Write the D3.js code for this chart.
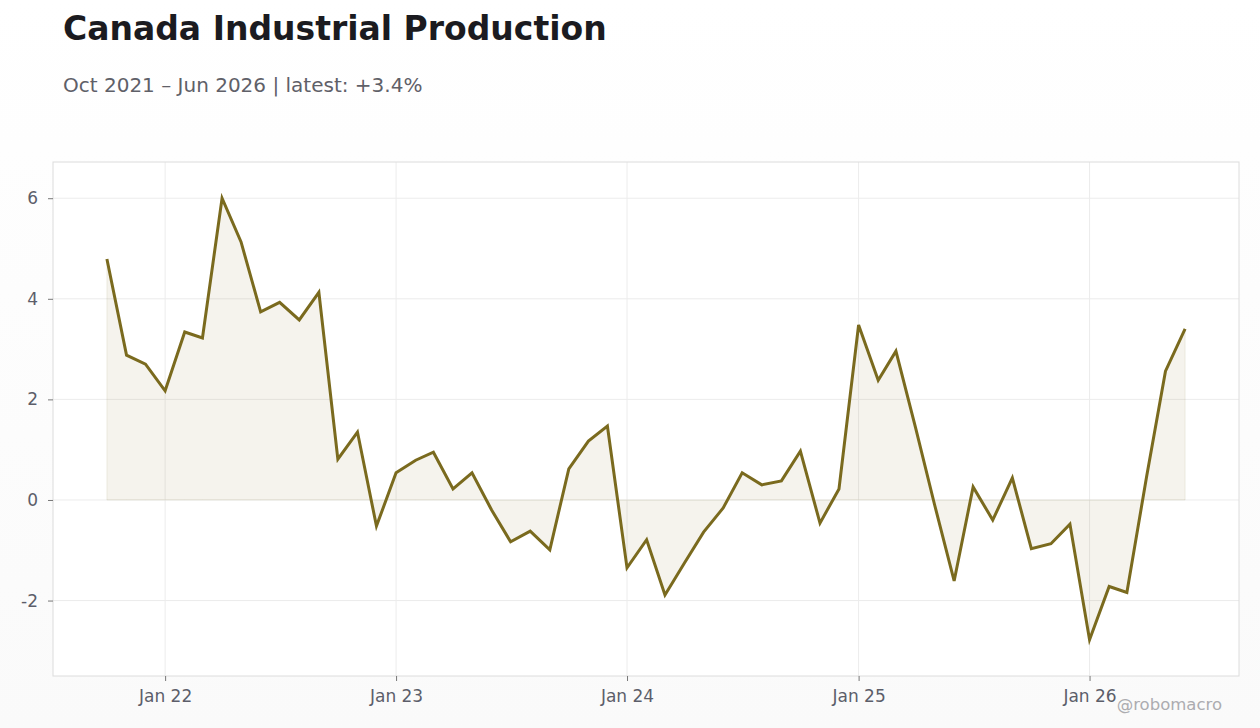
<!DOCTYPE html>
<html>
<head>
<meta charset="utf-8">
<script src="https://cdn.jsdelivr.net/npm/d3@7"></script>
<style>
  body { margin: 0; background: linear-gradient(#ffffff, #fafafa); font-family: "DejaVu Sans", sans-serif; }
  .tick text { fill: #5c5e6a; font-size: 17px; }
  .tick line { stroke: #777; }
</style>
</head>
<body>
<div id="chart"></div>
<script>
// monthly data, Oct 2021 .. Jun 2026
var startMonth = "2021-10";
var values = [
  4.79, 2.88, 2.70,
  2.17, 3.34, 3.22, 6.00, 5.13, 3.74, 3.93, 3.58, 4.13, 0.81, 1.35, -0.52,
  0.54, 0.79, 0.95, 0.22, 0.54, -0.20, -0.83, -0.62, -0.99, 0.62, 1.17, 1.47,
  -1.35, -0.79, -1.89, -1.25, -0.64, -0.16, 0.54, 0.30, 0.38, 0.97, -0.46, 0.22,
  3.48, 2.38, 2.96, 1.44, -0.09, -1.61, 0.26, -0.40, 0.44, -0.97, -0.87, -0.48,
  -2.78, -1.72, -1.84, 0.45, 2.56, 3.40
];
var yTicks = [-2, 0, 2, 4, 6];
var xTickLabels = ["Jan 22", "Jan 23", "Jan 24", "Jan 25", "Jan 26"];
var xTickDates = ["2022-01", "2023-01", "2024-01", "2025-01", "2026-01"];

var svgWidth = 1260;
var svgHeight = 728;
var margin = { top: 162, right: 21, bottom: 52, left: 53 };
var width = svgWidth - margin.left - margin.right;
var height = svgHeight - margin.top - margin.bottom;

var parseMonth = d3.timeParse("%Y-%m");
var start = parseMonth(startMonth);
var data = values.map(function(v, i) {
  return { date: d3.timeMonth.offset(start, i), value: v };
});

var svg = d3.select("#chart")
  .append("svg")
  .attr("width", svgWidth)
  .attr("height", svgHeight)
  .style("display", "block");

svg.append("text")
  .attr("x", 63)
  .attr("y", 40)
  .attr("font-size", 33)
  .attr("font-weight", "bold")
  .attr("fill", "#1b1b20")
  .text("Canada Industrial Production");

svg.append("text")
  .attr("x", 63)
  .attr("y", 92)
  .attr("font-size", 20)
  .attr("fill", "#5f6068")
  .text("Oct 2021 \u2013 Jun 2026 | latest: +3.4%");

var chartGroup = svg.append("g")
  .attr("transform", `translate(${margin.left}, ${margin.top})`);

// scales: 5% time padding on each side
var ext = d3.extent(data, d => d.date);
var span = ext[1] - ext[0];
var xScale = d3.scaleTime()
  .domain([new Date(+ext[0] - span * 0.05), new Date(+ext[1] + span * 0.05)])
  .range([0, width]);

var yScale = d3.scaleLinear()
  .domain([-3.5, 6.72])
  .range([height, 0]);

chartGroup.append("rect")
  .attr("width", width)
  .attr("height", height)
  .attr("fill", "#fff");

// grid
chartGroup.append("g")
  .selectAll("line")
  .data(yTicks)
  .enter()
  .append("line")
  .attr("x1", 0)
  .attr("x2", width)
  .attr("y1", d => yScale(d))
  .attr("y2", d => yScale(d))
  .attr("stroke", "#ececec");

chartGroup.append("g")
  .selectAll("line")
  .data(xTickDates)
  .enter()
  .append("line")
  .attr("x1", d => xScale(parseMonth(d)))
  .attr("x2", d => xScale(parseMonth(d)))
  .attr("y1", 0)
  .attr("y2", height)
  .attr("stroke", "#ececec");

// area to zero
var area = d3.area()
  .x(d => xScale(d.date))
  .y0(yScale(0))
  .y1(d => yScale(d.value));

chartGroup.append("path")
  .datum(data)
  .attr("d", area)
  .attr("fill", "#7a6a1e")
  .attr("fill-opacity", 0.08)
  .attr("stroke", "#7a6a1e")
  .attr("stroke-opacity", 0.1);

var line = d3.line()
  .x(d => xScale(d.date))
  .y(d => yScale(d.value));

chartGroup.append("path")
  .datum(data)
  .attr("d", line)
  .attr("fill", "none")
  .attr("stroke", "#7a6a1e")
  .attr("stroke-width", 3)
  .attr("stroke-linejoin", "miter");

// frame
chartGroup.append("rect")
  .attr("width", width)
  .attr("height", height)
  .attr("fill", "none")
  .attr("stroke", "#dcdcdc");

// axes
var bottomAxis = d3.axisBottom(xScale)
  .tickValues(xTickDates.map(parseMonth))
  .tickFormat((d, i) => xTickLabels[i])
  .tickSize(5)
  .tickPadding(9);

var leftAxis = d3.axisLeft(yScale)
  .tickValues(yTicks)
  .tickFormat(d => String(d))
  .tickSize(5)
  .tickPadding(10);

var xAxis = chartGroup.append("g")
  .attr("transform", `translate(0, ${height})`)
  .call(bottomAxis);
xAxis.select(".domain").remove();
xAxis.selectAll("text").attr("font-family", "DejaVu Sans");

var yAxis = chartGroup.append("g")
  .call(leftAxis);
yAxis.select(".domain").remove();
yAxis.selectAll("text").attr("font-family", "DejaVu Sans");

svg.append("text")
  .attr("x", 1222)
  .attr("y", 710)
  .attr("text-anchor", "end")
  .attr("font-size", 16.5)
  .attr("fill", "#acacb0")
  .text("@robomacro");
</script>
</body>
</html>
